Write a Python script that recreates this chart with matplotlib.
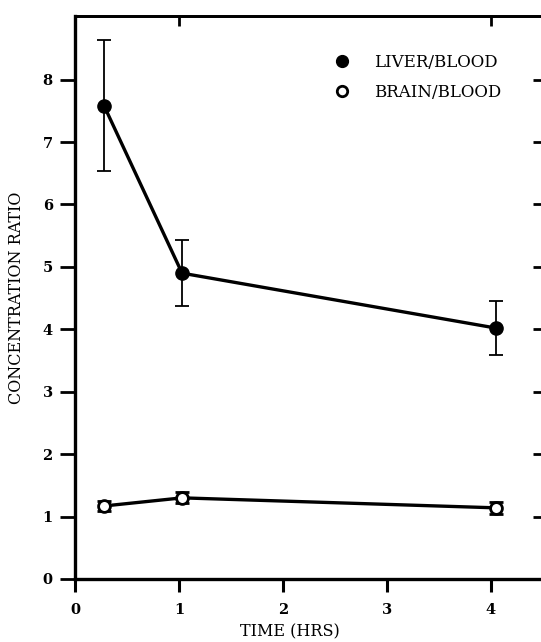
import matplotlib
matplotlib.use("Agg")
import matplotlib.pyplot as plt
from matplotlib.lines import Line2D

# Data
time_liver = [0.28, 1.03, 4.05]
liver_ratio = [7.58, 4.90, 4.02]
liver_err = [1.05, 0.53, 0.43]

time_brain = [0.28, 1.03, 4.05]
brain_ratio = [1.17, 1.30, 1.14]
brain_err = [0.08, 0.09, 0.10]

x_ticks = [0, 1, 2, 3, 4]
y_ticks = [0, 1, 2, 3, 4, 5, 6, 7, 8]
series_names = ["LIVER/BLOOD", "BRAIN/BLOOD"]

plt.rcParams['font.family'] = ['DejaVu Serif']

fig = plt.figure(figsize=(5.41, 6.42), dpi=100)
# axes runs past the right edge of the page, as in the scan
ax = fig.add_axes([75 / 541, 63 / 642, 473 / 541, 563 / 642])

ax.errorbar(time_liver, liver_ratio, yerr=liver_err, color="black", lw=2.4,
            marker="o", ms=9.5, mfc="black", mec="black",
            ecolor="black", elinewidth=1.3, capsize=5, capthick=1.3,
            zorder=3)
ax.errorbar(time_brain, brain_ratio, yerr=brain_err, color="black", lw=2.4,
            marker="o", ms=8.5, mfc="white", mec="black", mew=2,
            ecolor="black", elinewidth=1.3, capsize=5, capthick=2,
            zorder=3)

ax.set_xlim(0, 4.55)
ax.set_ylim(0, 9.02)

ax.set_xticks(x_ticks)
ax.set_yticks(y_ticks)
ax.tick_params(axis="x", direction="out", length=9, width=2.2, labelsize=10.5, pad=8)
ax.tick_params(axis="y", direction="out", length=11, width=2, labelsize=10.5, pad=5)
for lbl in ax.get_xticklabels() + ax.get_yticklabels():
    lbl.set_fontweight("bold")

# inward ticks on the right and on top (top only at 1 and 4)
ax_r = ax.secondary_yaxis("right")
ax_r.set_yticks(y_ticks[1:])
ax_r.tick_params(direction="in", length=11, width=2, labelright=False)
ax_t = ax.secondary_xaxis("top")
ax_t.set_xticks([1, 4])
ax_t.tick_params(direction="in", length=7, width=2, labeltop=False)

for side in ["left", "bottom"]:
    ax.spines[side].set_linewidth(2.4)
ax.spines["top"].set_linewidth(2)
ax.spines["right"].set_visible(False)
ax_r.spines["right"].set_visible(False)
ax_t.spines["top"].set_linewidth(2)

ax.set_xlabel("TIME (HRS)", fontsize=11.5)
ax.xaxis.set_label_coords(0.455, -0.078)
ax.set_ylabel("CONCENTRATION RATIO", fontsize=11.5)
ax.yaxis.set_label_coords(-0.105, 0.5)

handles = [
    Line2D([], [], ls="none", marker="o", ms=8.5, mfc="black", mec="black"),
    Line2D([], [], ls="none", marker="o", ms=7.5, mfc="white", mec="black", mew=2),
]
ax.legend(handles, series_names, loc="upper left", bbox_to_anchor=(244 / 473, 0.96),
          frameon=False, handlelength=1.0, handletextpad=1.4,
          labelspacing=0.8, fontsize=12)

fig.savefig("out.png", dpi=100)
